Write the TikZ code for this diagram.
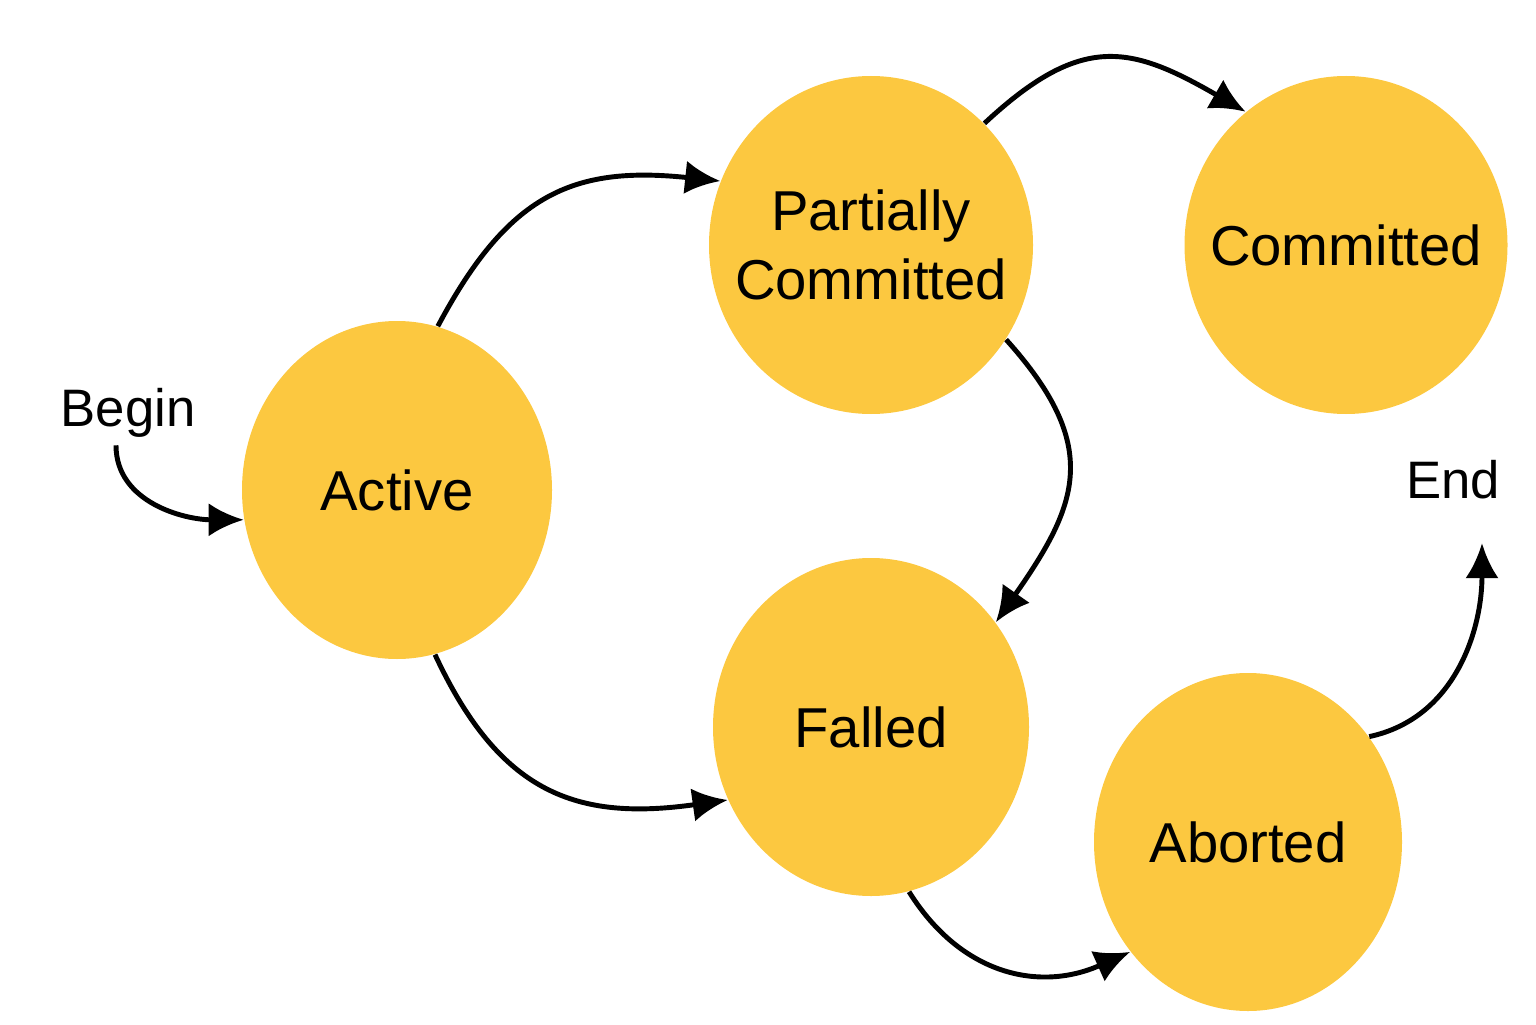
\documentclass[tikz,border=0pt]{standalone}
\usepackage{fontspec}
\setmainfont{Liberation Sans}
\usetikzlibrary{arrows.meta,shapes.geometric}

\definecolor{stategold}{RGB}{252,200,64}

\begin{document}
\begin{tikzpicture}[
        state/.style={ellipse, fill=stategold, inner sep=-0.6cm, minimum width=3.2cm, minimum height=3.38cm, align=center, font=\fontsize{16}{19.5}\selectfont},
        tag/.style={inner sep=2pt, font=\fontsize{15}{18}\selectfont},
        flow/.style={-{Latex[length=10pt,width=9.5pt]}, line width=1.4pt}
    ]
        \useasboundingbox (0,0) rectangle (15.36,10.24);

        \node[state, minimum width=3.1cm] (act) at (3.97,5.34) {Active};
        \node[state, minimum width=3.24cm] (pc) at (8.71,7.79) {Partially\\Committed};
        \node[state, minimum width=3.23cm] (com) at (13.46,7.79) {Committed};
        \node[state, minimum width=3.16cm] (fail) at (8.71,2.97) {Falled};
        \node[state, minimum width=3.08cm] (abort) at (12.48,1.82) {Aborted};

        \node[tag] (begin) at (1.28,6.11) {Begin};
        \node[tag] (end) at (14.53,5.44) {End};

        \draw[flow] ([xshift=-1.2mm]begin.south) to[out=-90, in=180] (act.191);
        \draw[flow] (act.76) to[out=62, in=174, looseness=1.2] (pc.157);
        \draw[flow] (act.-77) to[out=-65, in=188, looseness=1.2] (fail.207);
        \draw[flow] (pc.47) to[out=43, in=150, looseness=1.3] (com.127);
        \draw[flow] (pc.-35) to[out=-48, in=55, looseness=1.3] (fail.40);
        \draw[flow] (fail.-77) to[out=-58, in=204, looseness=1.1] (abort.223);
        \draw[flow] (abort.41) to[out=12, in=-90] ([xshift=2.9mm, yshift=-3.6mm]end.south);

    \end{tikzpicture}
\end{document}
